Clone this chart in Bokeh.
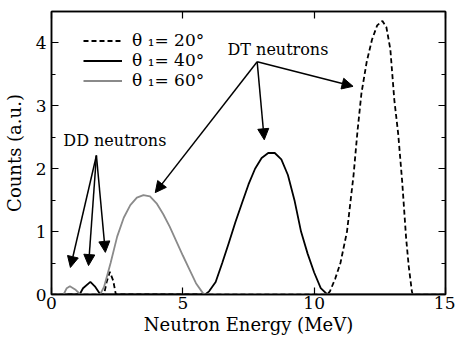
from bokeh.plotting import figure
from bokeh.models import (ColumnDataSource, Range1d, LinearAxis, FixedTicker, Legend, LegendItem,
                          Arrow, NormalHead, Label)
from bokeh.embed import file_html
from bokeh.resources import INLINE

# ---- data ----
e20 = [0.0, 2.0, 2.1, 2.22, 2.35, 2.45, 10.5, 10.6, 10.8, 11.0, 11.25, 11.5, 11.65, 11.8, 12.0, 12.2,
       12.4, 12.6, 12.75, 12.9, 13.05, 13.2, 13.35, 13.5, 13.6, 13.72, 13.75, 15.0]
c20 = [0.0, 0.0, 0.2, 0.36, 0.22, 0.0, 0.0, 0.05, 0.25, 0.5, 1.0, 1.9, 2.6, 3.2, 3.7, 4.05,
       4.28, 4.35, 4.25, 3.9, 3.1, 2.55, 1.8, 0.9, 0.45, 0.05, 0.0, 0.0]

e40 = [0.0, 1.07, 1.2, 1.48, 1.65, 1.86, 5.85, 6.0, 6.25, 6.5, 6.75, 7.0, 7.25, 7.5, 7.75, 8.0, 8.25,
       8.5, 8.75, 9.0, 9.25, 9.5, 9.75, 10.0, 10.25, 10.5, 15.0]
c40 = [0.0, 0.0, 0.1, 0.2, 0.13, 0.0, 0.0, 0.05, 0.2, 0.5, 0.82, 1.15, 1.45, 1.75, 2.0, 2.17, 2.25,
       2.25, 2.15, 1.9, 1.5, 1.0, 0.65, 0.35, 0.1, 0.0, 0.0]

e60 = [0.0, 0.46, 0.58, 0.7, 0.9, 1.1, 1.85, 2.0, 2.25, 2.5, 2.75, 3.0, 3.25, 3.5, 3.75, 4.0, 4.25,
       4.5, 4.75, 5.0, 5.25, 5.5, 5.75, 5.85, 15.0]
c60 = [0.0, 0.0, 0.1, 0.13, 0.08, 0.0, 0.0, 0.12, 0.5, 0.92, 1.22, 1.42, 1.54, 1.58, 1.56, 1.45, 1.28,
       1.08, 0.85, 0.62, 0.4, 0.18, 0.03, 0.0, 0.0]

legend_labels = ["θ ₁= 20°", "θ ₁= 40°", "θ ₁= 60°"]
x_ticks = [0, 5, 10, 15]
y_ticks = [0, 1, 2, 3, 4]
y_minor = [0.5, 1.5, 2.5, 3.5]

# annotation anchors (data units)
dd_text = (0.45, 2.3)
dd_origin = (1.71, 2.21)
dd_tips = [(0.72, 0.43), (1.41, 0.46), (2.05, 0.67)]
dt_text = (6.7, 3.75)
dt_origin = (7.83, 3.70)
dt_tips = [(3.95, 1.62), (8.1, 2.46), (11.48, 3.31)]

FONT = "DejaVu Serif"
GRAY = "#8a8a8a"

p = figure(width=455, height=339, output_backend="svg", toolbar_location=None,
           x_range=Range1d(0, 15), y_range=Range1d(0, 4.5),
           min_border_left=51, min_border_right=10, min_border_top=11, min_border_bottom=45)
p.xgrid.visible = False
p.ygrid.visible = False
p.outline_line_color = "black"
p.outline_line_width = 1.5
p.background_fill_color = "white"

r20 = p.line(e20, c20, line_color="black", line_width=1.8, line_dash="5 3")
r40 = p.line(e40, c40, line_color="black", line_width=1.8)
r60 = p.line(e60, c60, line_color=GRAY, line_width=1.8)

def style_axis(ax, labels=True):
    ax.axis_line_color = "black"
    ax.axis_line_width = 1.5
    ax.major_tick_in = 7
    ax.major_tick_out = 0
    ax.minor_tick_in = 4
    ax.minor_tick_out = 0
    ax.major_tick_line_color = "black"
    ax.minor_tick_line_color = "black"
    ax.major_tick_line_width = 1.2
    ax.minor_tick_line_width = 1.2
    ax.major_label_text_font = FONT
    ax.major_label_text_font_size = "17px"
    ax.major_label_text_color = "black"
    ax.axis_label_text_font = FONT
    ax.axis_label_text_font_size = "18px"
    ax.axis_label_text_font_style = "normal"
    ax.axis_label_text_color = "black"
    if not labels:
        ax.major_label_text_font_size = "0px"
        ax.major_label_text_alpha = 0

xa = p.xaxis[0]
style_axis(xa)
xa.ticker = FixedTicker(ticks=x_ticks)
xa.axis_label = "Neutron Energy (MeV)"
xa.major_label_standoff = 2
xa.axis_label_standoff = 2

ya = p.yaxis[0]
style_axis(ya)
ya.ticker = FixedTicker(ticks=y_ticks, minor_ticks=y_minor)
ya.axis_label = "Counts (a.u.)"
ya.major_label_standoff = 5
ya.axis_label_standoff = 8

top = LinearAxis(ticker=FixedTicker(ticks=x_ticks))
style_axis(top, labels=False)
top.major_label_standoff = 0
p.add_layout(top, "above")

right = LinearAxis(ticker=FixedTicker(ticks=y_ticks, minor_ticks=y_minor))
style_axis(right, labels=False)
right.major_label_standoff = 0
p.add_layout(right, "right")

legend = Legend(items=[LegendItem(label=legend_labels[0], renderers=[r20]),
                       LegendItem(label=legend_labels[1], renderers=[r40]),
                       LegendItem(label=legend_labels[2], renderers=[r60])],
                location=(32, 204), orientation="vertical",
                label_text_font=FONT, label_text_font_size="17px", label_text_color="black",
                glyph_width=39, glyph_height=19, label_height=19, label_standoff=10,
                spacing=-3, padding=0, margin=0,
                border_line_color=None, background_fill_alpha=0)
p.add_layout(legend, "center")

p.add_layout(Label(x=dd_text[0], y=dd_text[1], text="DD neutrons", text_font=FONT,
                   text_font_size="16px", text_color="black", text_baseline="bottom"))
p.add_layout(Label(x=dt_text[0], y=dt_text[1], text="DT neutrons", text_font=FONT,
                   text_font_size="16px", text_color="black", text_baseline="bottom"))

for origin, tips in ((dd_origin, dd_tips), (dt_origin, dt_tips)):
    for tx, ty in tips:
        p.add_layout(Arrow(end=NormalHead(size=11, fill_color="black", line_color="black"),
                           x_start=origin[0], y_start=origin[1], x_end=tx, y_end=ty,
                           line_color="black", line_width=1.5))

open("out.html", "w").write(file_html(p, INLINE))
